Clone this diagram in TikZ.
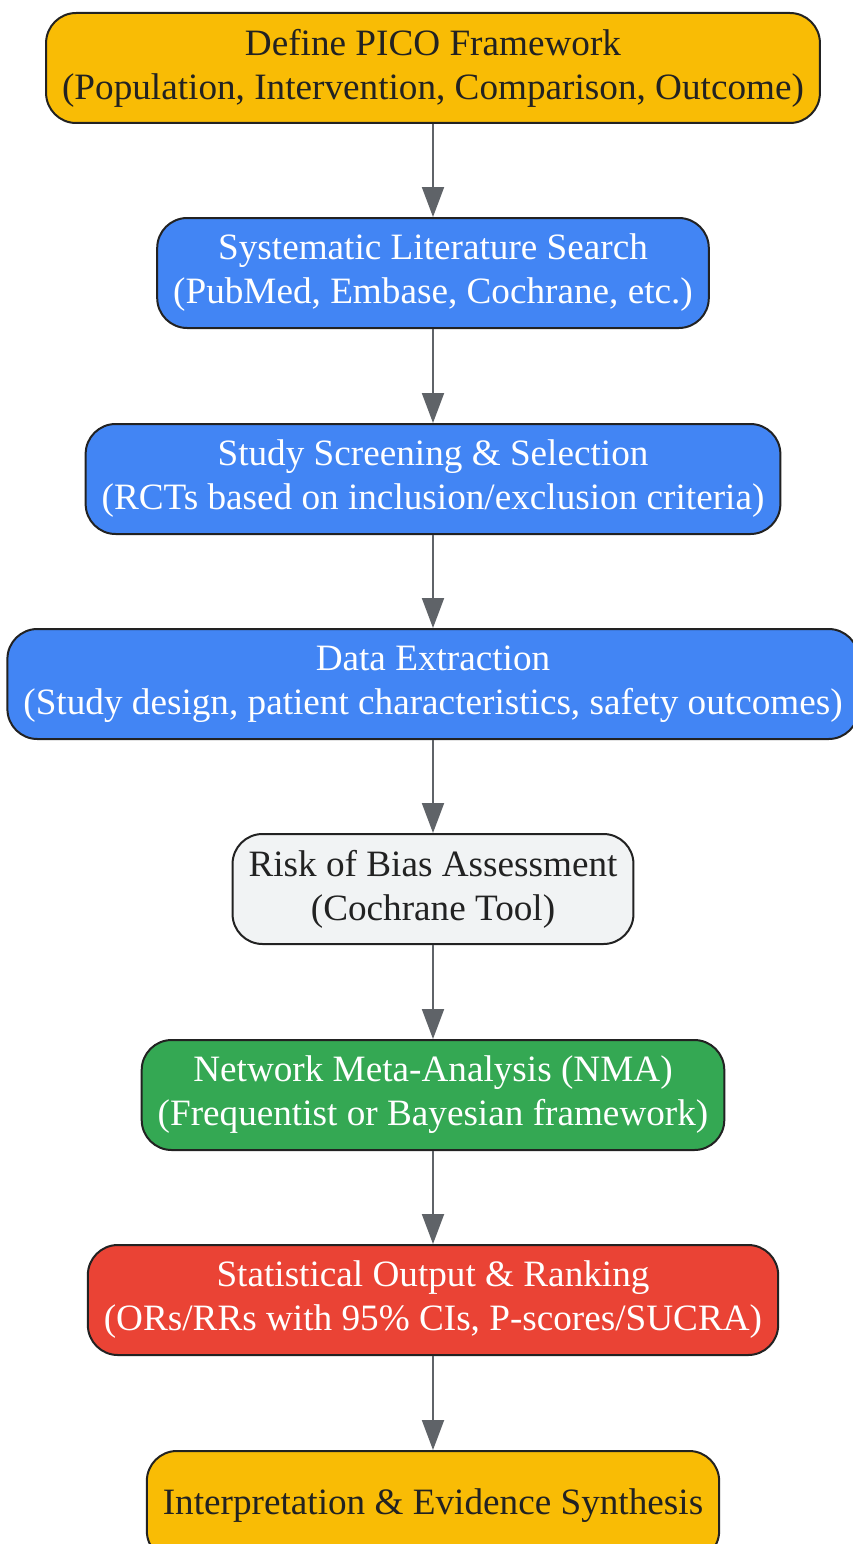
\documentclass[tikz,border=0pt]{standalone}
\usepackage{fontspec}
\setmainfont{Liberation Serif}
\usetikzlibrary{arrows.meta}

\definecolor{gyellow}{HTML}{F9BC05}
\definecolor{gblue}{HTML}{4285F4}
\definecolor{ggreen}{HTML}{34A853}
\definecolor{gred}{HTML}{EA4335}
\definecolor{ggray}{HTML}{F1F3F4}
\definecolor{edge}{HTML}{222222}
\definecolor{arrowgray}{HTML}{5F6368}

\tikzset{
    stage/.style={draw=edge, line width=2pt, rounded corners=30pt, align=center,
        minimum height=110pt, inner xsep=16pt, inner ysep=0pt,
        font=\fontsize{37.2}{44}\selectfont},
    light/.style={stage, text=edge},
    dark/.style={stage, text=white},
    flow/.style={draw=arrowgray, line width=2pt, -{Triangle[length=30pt,width=22pt]}}
}

\begin{document}
\begin{tikzpicture}[x=1pt,y=1pt]
    \useasboundingbox (0,0) rectangle (852,-1544);

    \node[light, fill=gyellow] (pico) at (433,-68) {Define PICO Framework\\(Population, Intervention, Comparison, Outcome)};
    \node[dark, fill=gblue] (search) at (433,-273) {Systematic Literature Search\\(PubMed, Embase, Cochrane, etc.)};
    \node[dark, fill=gblue] (screen) at (433,-479) {Study Screening \& Selection\\(RCTs based on inclusion/exclusion criteria)};
    \node[dark, fill=gblue] (extract) at (433,-684) {Data Extraction\\(Study design, patient characteristics, safety outcomes)};
    \node[light, fill=ggray] (bias) at (433,-889) {Risk of Bias Assessment\\(Cochrane Tool)};
    \node[dark, fill=ggreen] (nma) at (433,-1095) {Network Meta-Analysis (NMA)\\(Frequentist or Bayesian framework)};
    \node[dark, fill=gred] (stats) at (433,-1300) {Statistical Output \& Ranking\\(ORs/RRs with 95\% CIs, P-scores/SUCRA)};
    \node[light, fill=gyellow] (synth) at (433,-1506) {Interpretation \& Evidence Synthesis};

    \draw[flow] (pico) -- (search);
    \draw[flow] (search) -- (screen);
    \draw[flow] (screen) -- (extract);
    \draw[flow] (extract) -- (bias);
    \draw[flow] (bias) -- (nma);
    \draw[flow] (nma) -- (stats);
    \draw[flow] (stats) -- (synth);
\end{tikzpicture}
\end{document}
